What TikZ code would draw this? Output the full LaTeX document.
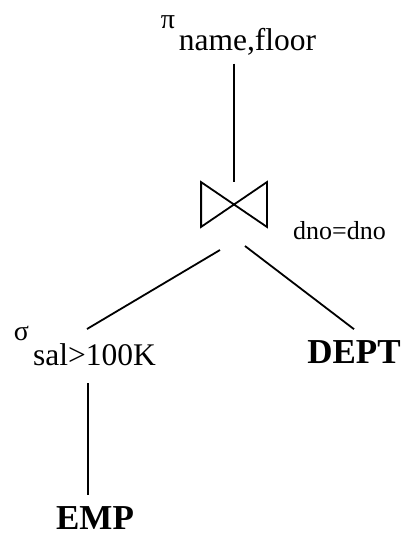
\documentclass[tikz,border=0pt]{standalone}
\usepackage{fontspec}
\setmainfont{Liberation Serif}

\begin{document}
\begin{tikzpicture}[
  x=1pt,y=-1pt,
  line width=1.8pt,
  every node/.style={anchor=base},
  opsym/.style={font=\fontsize{28}{30}\selectfont,inner sep=0pt},
  oparg/.style={font=\fontsize{31.5}{34}\selectfont,inner sep=8pt},
  condition/.style={font=\fontsize{26}{28}\selectfont,inner sep=0pt},
  relation/.style={font=\bfseries\fontsize{35}{38}\selectfont,inner sep=10pt},
  joinbox/.style={anchor=center,minimum width=64pt,minimum height=43pt,inner sep=0pt}
]
  \useasboundingbox (0,0) rectangle (408,536);

  % Projection on top.
  \node[opsym] (pi) at (168,28) {π};
  \node[oparg] (proj) at (247.5,50) {name,floor};

  % Join with its condition.
  \node[joinbox] (join) at (234,204.5) {};
  \draw (join.north west) -- (join.south east) -- (join.north east)
    -- (join.south west) -- cycle;
  \node[condition] (cond) at (339.5,239) {dno=dno};

  % Selection on the left branch.
  \node[opsym] (sigma) at (21.5,340) {σ};
  \node[oparg] (sel) at (94.5,365) {sal>100K};

  % Base relations.
  \node[relation] (dept) at (354,363) {DEPT};
  \node[relation] (emp) at (95,529) {EMP};

  % Ports where the tree edges meet the operators.
  \coordinate (joinl) at (220,250);
  \coordinate (joinr) at (245,246);
  \coordinate (selt) at (87,329);
  \coordinate (selb) at (88,383);

  \draw (join.north |- proj.south) -- (join.north);
  \draw (joinl) -- (selt);
  \draw (joinr) -- (dept.north);
  \draw (selb) -- (emp.north -| selb);
\end{tikzpicture}
\end{document}
